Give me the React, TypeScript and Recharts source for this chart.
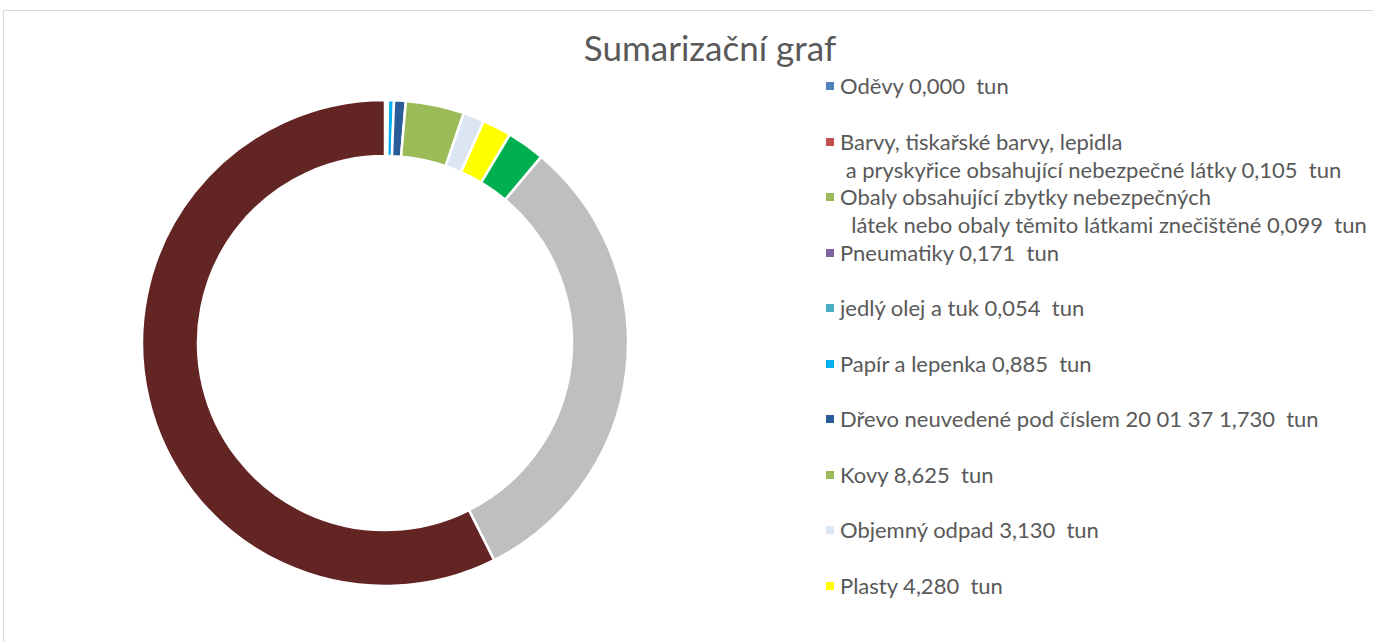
import { PieChart, Pie, Cell, Legend } from 'recharts';

const labels = [
  'Oděvy 0,000  tun',
  'Barvy, tiskařské barvy, lepidla\n a pryskyřice obsahující nebezpečné látky 0,105  tun',
  'Obaly obsahující zbytky nebezpečných\n  látek nebo obaly těmito látkami znečištěné 0,099  tun',
  'Pneumatiky 0,171  tun',
  'jedlý olej a tuk 0,054  tun',
  'Papír a lepenka 0,885  tun',
  'Dřevo neuvedené pod číslem 20 01 37 1,730  tun',
  'Kovy 8,625  tun',
  'Objemný odpad 3,130  tun',
  'Plasty 4,280  tun',
  'Sklo 5,600  tun',
  'Biologicky rozložitelný odpad 69,900  tun',
  'Směsný komunální odpad 127,500  tun',
];
const values = [0, 0.105, 0.099, 0.171, 0.054, 0.885, 1.73, 8.625, 3.13, 4.28, 5.6, 69.9, 127.5];
const colors = [
  '#4F81BD', '#C0504D', '#9BBB59', '#8064A2', '#4BACC6', '#00B0F0', '#2A5C9A',
  '#9BBB59', '#DCE6F2', '#FFFF00', '#00B050', '#BFBFBF', '#632523',
];
// only the first 10 entries fit in the legend box
const legendCount = 10;

const data = labels.map((name, i) => ({ name, value: values[i] }));

function LegendList() {
  return (
    <div style={{ fontFamily: 'Lato, sans-serif', fontSize: 22, color: '#595959' }}>
      {labels.slice(0, legendCount).map((label, i) => (
        <div key={i} style={{ height: 55.5, position: 'relative' }}>
          <div
            style={{
              position: 'absolute', left: 0, top: 10, width: 8, height: 8, background: colors[i],
            }}
          />
          <div style={{ position: 'absolute', left: 14, top: 0, lineHeight: '28px', whiteSpace: 'pre' }}>
            {label}
          </div>
        </div>
      ))}
    </div>
  );
}

export default function App() {
  return (
    <div style={{ position: 'absolute', left: 0, top: 0, width: 1373, height: 642, overflow: 'hidden', background: '#fff' }}>
      <div
        style={{
          position: 'absolute', left: 3, top: 10, width: 1400, height: 660, border: '1px solid #D9D9D9',
        }}
      />
      <div
        style={{
          position: 'absolute', left: 0, top: 26, width: 1420, textAlign: 'center',
          fontFamily: 'Lato, sans-serif', fontSize: 35, color: '#595959',
        }}
      >
        Sumarizační graf
      </div>
      <div style={{ position: 'absolute', left: 0, top: 0 }}>
        <PieChart width={1373} height={642} margin={{ top: 0, right: 0, bottom: 0, left: 0 }}>
          <Pie
            data={data}
            dataKey="value"
            nameKey="name"
            cx={385}
            cy={343}
            innerRadius={187}
            outerRadius={243}
            startAngle={90}
            endAngle={-270}
            stroke="#fff"
            strokeWidth={2.5}
            isAnimationActive={false}
          >
            {data.map((_, i) => (
              <Cell key={i} fill={colors[i]} />
            ))}
          </Pie>
          <Legend
            layout="vertical"
            align="right"
            verticalAlign="top"
            content={() => <LegendList />}
            wrapperStyle={{ position: 'absolute', left: 826, top: 72, width: 545 }}
          />
        </PieChart>
      </div>
    </div>
  );
}
